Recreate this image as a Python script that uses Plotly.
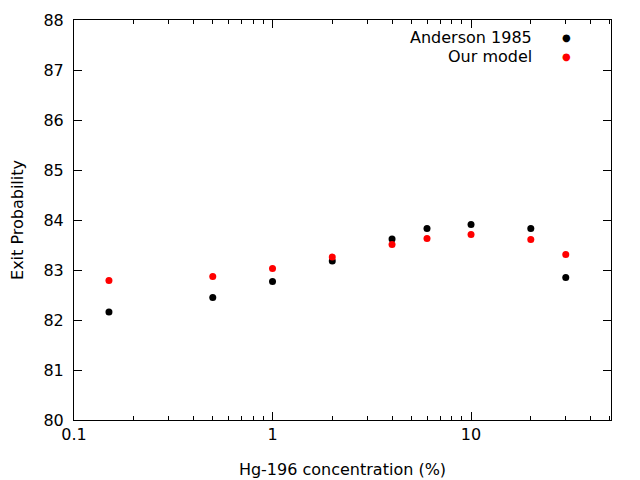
"""Exit probability vs Hg-196 concentration: Anderson 1985 data and our model."""

import plotly.graph_objects as go

# Hg-196 concentration (%)
concentration = [0.15, 0.5, 1, 2, 4, 6, 10, 20, 30]

# Exit probability values
anderson_1985 = [82.16, 82.45, 82.77, 83.18, 83.62, 83.83, 83.91, 83.83, 82.85]
our_model = [82.79, 82.87, 83.03, 83.26, 83.51, 83.63, 83.71, 83.61, 83.31]

series_names = ["Anderson 1985", "Our model"]
series_colors = ["black", "red"]

x_tickvals = [0.1, 1, 10]
x_ticktext = ["0.1", "1", "10"]
x_minor = [0.2, 0.3, 0.4, 0.5, 0.6, 0.7, 0.8, 0.9,
           2, 3, 4, 5, 6, 7, 8, 9,
           20, 30, 40, 50]

FONT = "DejaVu Sans"
FSIZE = 16

fig = go.Figure()
for name, ys, color in zip(series_names, [anderson_1985, our_model], series_colors):
    fig.add_trace(go.Scatter(
        x=concentration,
        y=ys,
        mode="markers",
        name=name,
        marker=dict(color=color, size=7),
        showlegend=False,
    ))

# legend drawn gnuplot style: label right aligned, key symbol on its right
for i, (name, color) in enumerate(zip(series_names, series_colors)):
    y_pos = 0.956 - i * 0.0475
    fig.add_annotation(
        text=name, xref="paper", yref="paper", x=0.857, y=y_pos,
        xanchor="right", yanchor="middle", showarrow=False,
        font=dict(family=FONT, size=FSIZE, color="black"),
    )
    fig.add_annotation(
        text="●", xref="paper", yref="paper", x=0.918, y=y_pos,
        xanchor="center", yanchor="middle", showarrow=False,
        font=dict(family=FONT, size=10, color=color),
    )

axis_common = dict(
    showline=True,
    linecolor="black",
    linewidth=1,
    mirror="allticks",
    ticks="inside",
    ticklen=8,
    tickwidth=1,
    tickcolor="black",
    showgrid=False,
    zeroline=False,
    automargin=False,
    tickfont=dict(family=FONT, size=FSIZE, color="black"),
)

fig.update_xaxes(
    type="log",
    range=[-1, 1.705],
    tickmode="array",
    tickvals=x_tickvals,
    ticktext=x_ticktext,
    minor=dict(ticks="inside", ticklen=4, tickcolor="black",
               tickmode="array", tickvals=x_minor, showgrid=False),
    title=dict(text="Hg-196 concentration (%)",
               font=dict(family=FONT, size=FSIZE, color="black"), standoff=20),
    **axis_common,
)
fig.update_yaxes(
    range=[80, 88],
    dtick=1,
    ticklabelstandoff=6,
    title=dict(text="Exit Probability",
               font=dict(family=FONT, size=FSIZE, color="black"), standoff=27),
    **axis_common,
)

# the page body has an 8px margin, so the figure is sized and padded to fit
fig.update_layout(
    width=632,
    height=472,
    margin=dict(l=66, r=29, t=12, b=60),
    plot_bgcolor="white",
    paper_bgcolor="white",
    font=dict(family=FONT, size=FSIZE, color="black"),
)

fig.write_html("out.html")
